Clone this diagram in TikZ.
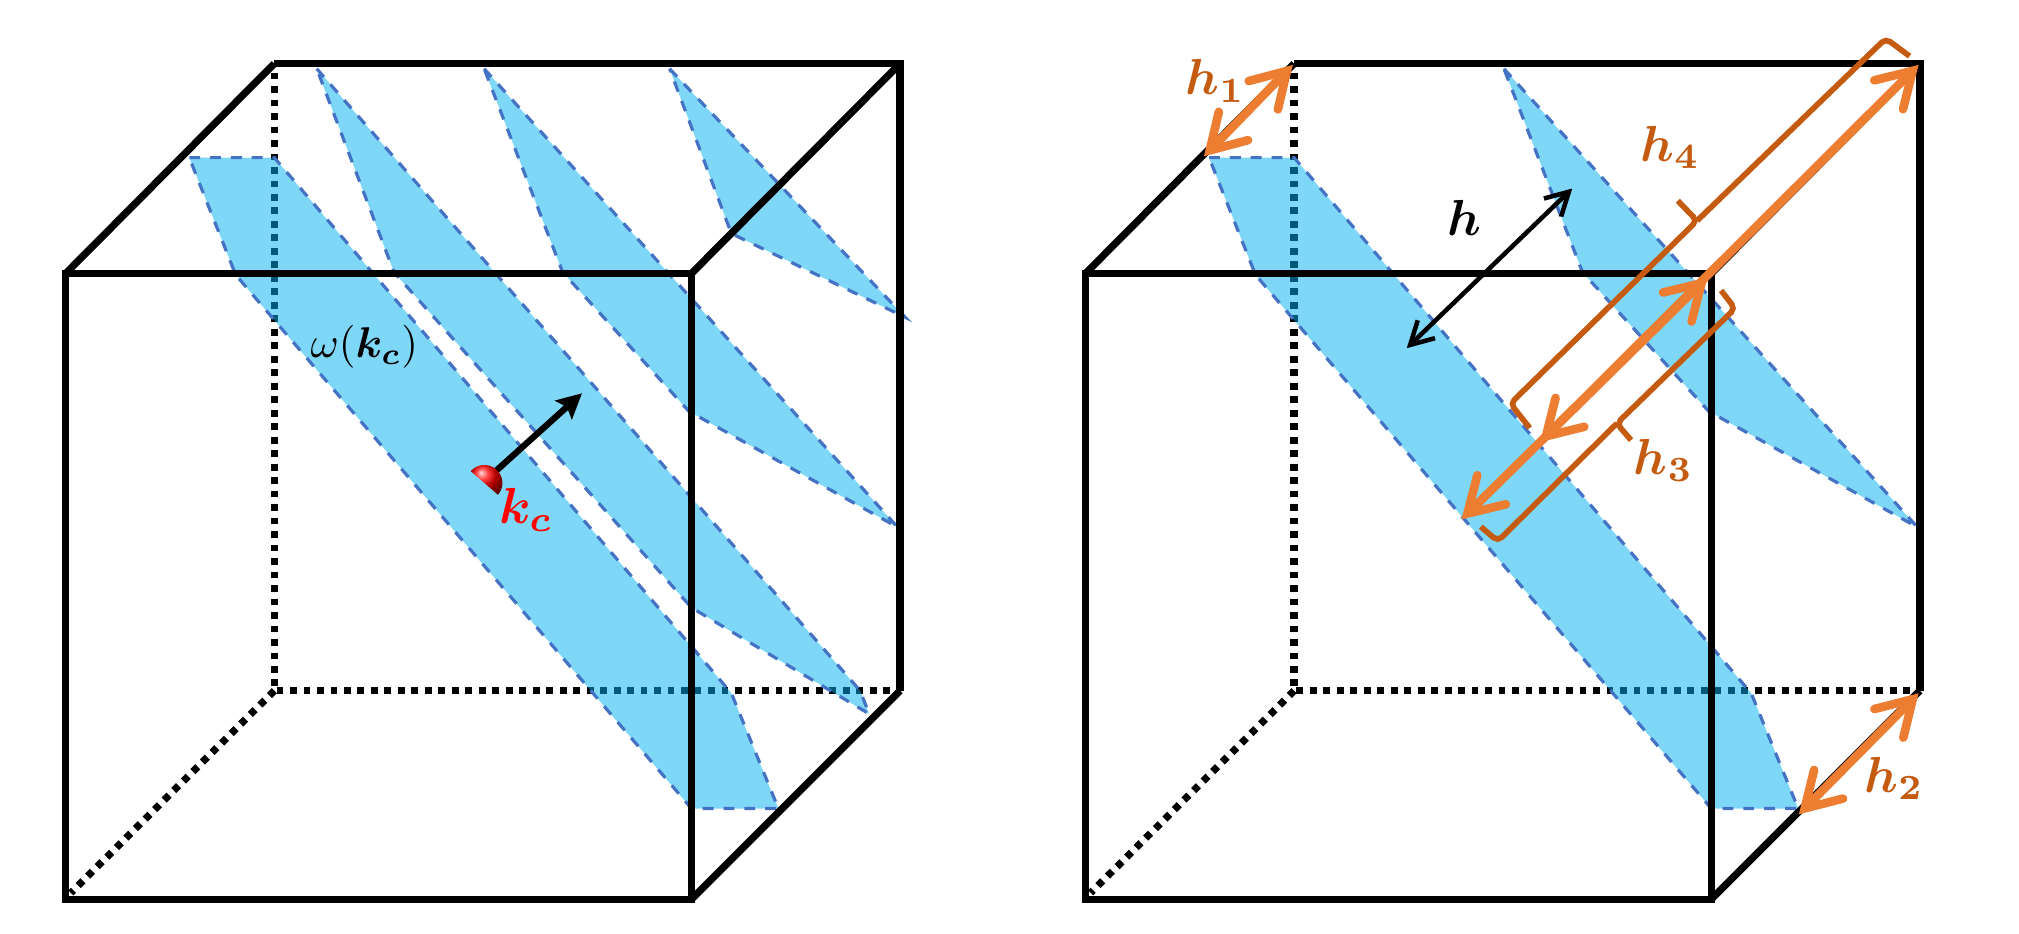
\documentclass[tikz,border=0pt]{standalone}
\usepackage{amsmath,amssymb}
\usepackage{bm}
\usetikzlibrary{arrows.meta}
\definecolor{bandfill}{HTML}{00B0F0}
\definecolor{banddash}{HTML}{4472C4}
\definecolor{harrow}{HTML}{ED7D31}
\definecolor{hlabel}{HTML}{C55A11}
\tikzset{
  solidedge/.style={line width=1.6pt, line join=miter},
  hiddenedge/.style={line width=1.6pt, dash pattern=on 1.5pt off 1.48pt},
  bandface/.style={fill=bandfill, fill opacity=0.5, draw=none},
  bandline/.style={draw=banddash, line width=0.7pt, dash pattern=on 2.4pt off 2.2pt},
  widtharrow/.style={harrow, line width=1.9pt, {Straight Barb[length=7.5pt,width=9pt,line cap=round]}-{Straight Barb[length=7.5pt,width=9pt,line cap=round]}},
  hbrace/.style={hlabel, line width=1.25pt, rounded corners=1.2pt, line cap=butt},
  hname/.style={hlabel, scale=1.12, inner sep=0pt}
}
\begin{document}
\begin{tikzpicture}
    \useasboundingbox (0,0.018) rectangle (15.68,7.264);
    % left cube, hidden edges first
    \draw[hiddenedge] (2.13,6.70) -- (2.13,1.90) -- (6.95,1.90);
    \draw[hiddenedge] (2.13,1.90) -- (0.55,0.33);
    \path[bandface] (1.47,6.04) -- (2.13,6.04) -- (5.68,1.88) -- (6.045,0.985) -- (5.37,0.985) -- (1.83,5.13) -- cycle;
    \path[bandface] (2.46,6.73) -- (6.68,1.90) -- (6.75,1.72) -- (5.37,2.545) -- (3.06,5.15) -- cycle;
    \path[bandface] (3.76,6.73) -- (6.97,3.17) -- (5.35,4.07) -- (4.37,5.15) -- cycle;
    \path[bandface] (5.20,6.73) -- (7.03,4.80) -- (5.68,5.45) -- cycle;
    \draw[bandline] (1.47,6.04) -- (2.13,6.04) -- (5.68,1.88) -- (6.045,0.985) -- (5.37,0.985) -- (1.83,5.13) -- cycle;
    \draw[bandline] (2.46,6.73) -- (6.68,1.90) -- (6.75,1.72) -- (5.37,2.545) -- (3.06,5.15) -- cycle;
    \draw[bandline] (3.76,6.73) -- (6.97,3.17) -- (5.35,4.07) -- (4.37,5.15) -- cycle;
    \draw[bandline] (5.20,6.73) -- (7.03,4.80) -- (5.68,5.45) -- cycle;
    \draw[solidedge] (0.51,5.14) rectangle (5.37,0.28);
    \draw[solidedge] (2.13,6.77) -- (6.99,6.77) -- (6.99,1.90);
    \draw[solidedge] (0.51,5.14) -- (2.13,6.77);
    \draw[solidedge] (5.37,5.14) -- (6.99,6.77);
    \draw[solidedge] (5.37,0.28) -- (6.99,1.90);
    \node[scale=0.95, inner sep=0pt] (bandname) at (2.83,4.57) {$\omega(\bm{k_c})$};
    \coordinate (kcbase) at (3.80,3.56);
    \coordinate (kctip) at (4.52,4.21);
    \draw[line width=1.4pt, -{Stealth[length=5.5pt,width=5.5pt,inset=1pt]}] (kcbase) -- (kctip);
    \shade[ball color=red] (3.656,3.605) arc[start angle=139, end angle=-41, radius=0.14] -- cycle;
    \node[red, scale=1.12, inner sep=0pt] (kcname) at (4.085,3.305) {$\bm{k_c}$};
    % right cube
    \begin{scope}[xshift=7.92cm]
    \draw[hiddenedge] (2.13,6.70) -- (2.13,1.90) -- (6.95,1.90);
    \draw[hiddenedge] (2.13,1.90) -- (0.55,0.33);
    \path[bandface] (1.47,6.04) -- (2.13,6.04) -- (5.68,1.88) -- (6.045,0.985) -- (5.37,0.985) -- (1.83,5.13) -- cycle;
    \path[bandface] (3.76,6.73) -- (6.97,3.17) -- (5.35,4.07) -- (4.37,5.15) -- cycle;
    \draw[bandline] (1.47,6.04) -- (2.13,6.04) -- (5.68,1.88) -- (6.045,0.985) -- (5.37,0.985) -- (1.83,5.13) -- cycle;
    \draw[bandline] (3.76,6.73) -- (6.97,3.17) -- (5.35,4.07) -- (4.37,5.15) -- cycle;
    \draw[solidedge] (0.51,5.14) rectangle (5.37,0.28);
    \draw[solidedge] (2.13,6.77) -- (6.99,6.77) -- (6.99,1.90);
    \draw[solidedge] (0.51,5.14) -- (2.13,6.77);
    \draw[solidedge] (5.37,5.14) -- (6.99,6.77);
    \draw[solidedge] (5.37,0.28) -- (6.99,1.90);
    \end{scope}
    \coordinate (hup) at (12.21,5.80);
    \coordinate (hdown) at (10.925,4.56);
    \draw[line width=1pt, {Straight Barb[length=5pt,width=5.5pt]}-{Straight Barb[length=5pt,width=5.5pt]}] (hup) -- (hdown);
    \node[scale=1.12, inner sep=0pt] (hname) at (11.375,5.575) {$\bm{h}$};
    \coordinate (hoa) at (10.04,6.76);
    \coordinate (hob) at (9.35,6.05);
    \coordinate (hta) at (14.90,1.88);
    \coordinate (htb) at (13.97,0.94);
    \coordinate (hra) at (13.26,5.11);
    \coordinate (hrb) at (11.35,3.23);
    \coordinate (hfa) at (14.90,6.76);
    \coordinate (hfb) at (11.96,3.83);
    \draw[widtharrow] (hoa) -- (hob);
    \draw[widtharrow] (hta) -- (htb);
    \draw[widtharrow] (hfa) -- (hfb);
    \draw[widtharrow] (hra) -- (hrb);
    \draw[hbrace] (11.88,3.94) -- (11.73,4.13) -- (13.18,5.55) -- (13.03,5.705);
    \draw[hbrace] (13.18,5.55) -- (14.645,6.965) -- (14.83,6.828);
    \draw[hbrace] (13.366,5.008) -- (13.475,4.868) -- (12.556,3.975) -- (12.667,3.846);
    \draw[hbrace] (12.556,3.975) -- (11.632,3.061) -- (11.50,3.173);
    \node[hname] (honame) at (9.44,6.635) {$\bm{h_1}$};
    \node[hname] (htname) at (14.71,1.22) {$\bm{h_2}$};
    \node[hname] (hrname) at (12.92,3.69) {$\bm{h_3}$};
    \node[hname] (hfname) at (12.97,6.12) {$\bm{h_4}$};
\end{tikzpicture}
\end{document}
